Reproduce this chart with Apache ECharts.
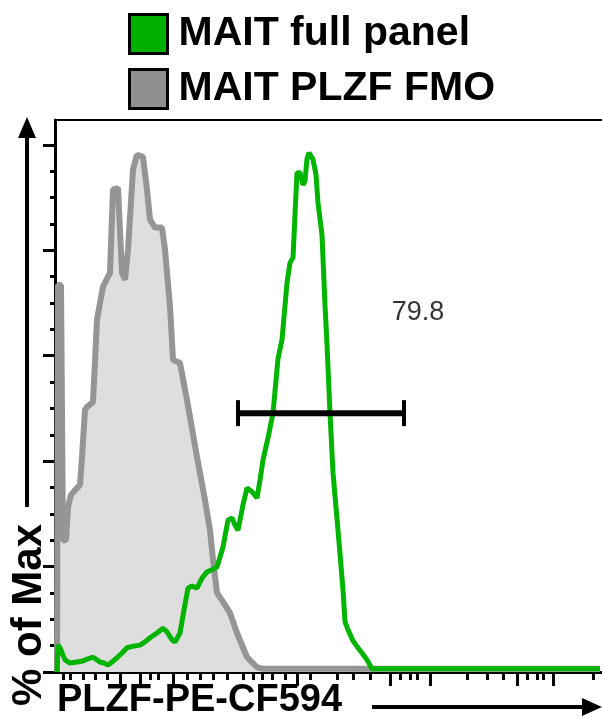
<!DOCTYPE html>
<html>
<head>
<meta charset="utf-8">
<script src="https://cdn.jsdelivr.net/npm/echarts@6/dist/echarts.min.js"></script>
<style>
html,body{margin:0;padding:0;background:#fff;}
#chart{width:602px;height:721px;}
</style>
</head>
<body>
<div id="chart"></div>
<script>
// ---- data (x in display channel units 0..547, y in % of Max) ----
const seriesNames = ['MAIT full panel', 'MAIT PLZF FMO'];
const fmoX = [2,3,6,8,11,13,16,20,25,27,30,32,38,42,48,55,58,63,67,70,73,78,82,88,92,95,100,107,110,115,118,125,132,142,150,155,158,162,168,175,182,192,202,208,315,545];
const fmoY = [0,73.4,73.4,25.0,25.0,31.3,33.6,34.5,35.5,40.8,49.7,50.3,51.2,66.8,73.1,75.7,91.5,91.8,75.7,74.4,80.1,95.3,98.1,97.7,91.5,85.8,84.3,84.3,80.1,69.3,59.2,58.6,51.6,40.8,32.6,26.9,21.3,15.0,13.3,11.2,7.4,2.8,0.9,0.6,0.6,0.6];
const fullX = [2,3,5,10,15,22,28,33,38,42,45,49,53,57,62,67,72,78,85,90,95,102,108,112,117,120,125,129,133,137,142,147,152,157,162,168,173,177,180,183,188,192,197,202,205,208,213,218,223,227,232,235,238,242,245,248,250,252,254,258,261,263,267,270,272,275,278,283,288,290,293,298,303,307,312,317,345,545];
const fullY = [0,5.1,4.6,2.3,1.7,1.9,2.1,2.5,2.8,2.3,1.9,1.7,1.3,1.9,2.7,3.6,4.6,4.9,5.1,5.7,6.5,7.4,8.3,7.6,6.1,5.7,7.4,11.8,15.9,16.3,15.9,17.8,19.0,19.4,19.9,23.7,28.8,29.2,27.9,26.9,31.7,34.9,34.2,33.0,36.4,40.2,44.4,49.1,59.4,63.0,73.8,77.6,78.6,94.7,94.7,92.4,93.2,97.3,98.5,97.2,94.3,89.0,82.9,69.6,62.2,49.1,37.8,26.9,15.6,9.5,8.0,5.9,4.6,3.6,2.3,0.6,0.6,0.6];
const gateRange = [183, 349];
const gateLevel = 49.1;
const gateLabel = '79.8';
const gateLabelPos = [363, 68.1];
const xRange = [0, 547];
const yRange = [0, 104.7];
const yMajorTicks = [0, 20, 40, 60, 80, 100];
const yMinorTicks = [5,10,15,25,30,35,45,50,55,65,70,75,85,90,95];
const xMajorTicks = [65, 85, 118, 242, 335, 375, 462, 498];
const xMinorTicks = [8, 15, 28, 40, 52, 95, 103, 132, 145, 158, 172, 188, 198, 207, 217, 230, 255, 282, 298, 315, 345, 355, 362, 412, 432, 448, 472, 482, 488, 538];
const xTitle = 'PLZF-PE-CF594';
const yTitle = '% of Max';

// ---- build ----
const FONT = '"Liberation Sans", Arial, Helvetica, sans-serif';
const GREEN = '#00b400';
const GRAY_LINE = '#959595';
const GRAY_FILL = '#dedede';
const zip = (a, b) => a.map((v, i) => [v, b[i]]);

const chart = echarts.init(document.getElementById('chart'), null, {renderer: 'canvas'});
chart.setOption({
  animation: false,
  backgroundColor: '#fff',
  grid: {left: 55, right: 0, top: 120, bottom: 49, containLabel: false},
  legend: {
    orient: 'vertical', left: 123, top: 7, itemWidth: 38, itemHeight: 39, itemGap: 11,
    selectedMode: false,
    textStyle: {fontFamily: FONT, fontWeight: 'bold', fontSize: 41, color: '#000', lineHeight: 44, padding: [0, 0, 0, 6]},
    data: [
      {name: seriesNames[0], icon: 'rect', itemStyle: {color: '#00b000', borderColor: '#000', borderWidth: 3}},
      {name: seriesNames[1], icon: 'rect', itemStyle: {color: '#909090', borderColor: '#000', borderWidth: 3}}
    ]
  },
  xAxis: [
    {type: 'value', min: xRange[0], max: xRange[1], position: 'bottom',
     axisLine: {show: true, lineStyle: {color: '#000', width: 3}},
     axisTick: {show: true, customValues: xMajorTicks, length: 14, lineStyle: {color: '#000', width: 3}},
     axisLabel: {show: false}, splitLine: {show: false}},
    {type: 'value', min: xRange[0], max: xRange[1], position: 'top',
     axisLine: {show: true, onZero: false, lineStyle: {color: '#000', width: 2}},
     axisTick: {show: false}, axisLabel: {show: false}, splitLine: {show: false}},
    {type: 'value', min: xRange[0], max: xRange[1], position: 'bottom',
     axisLine: {show: false},
     axisTick: {show: true, customValues: xMinorTicks, length: 8, lineStyle: {color: '#000', width: 3}},
     axisLabel: {show: false}, splitLine: {show: false}}
  ],
  yAxis: [
    {type: 'value', min: yRange[0], max: yRange[1], position: 'left',
     axisLine: {show: true, lineStyle: {color: '#000', width: 3}},
     axisTick: {show: true, customValues: yMajorTicks, length: 12, lineStyle: {color: '#000', width: 3}},
     axisLabel: {show: false}, splitLine: {show: false}},
    {type: 'value', min: yRange[0], max: yRange[1], position: 'left',
     axisLine: {show: false},
     axisTick: {show: true, customValues: yMinorTicks, length: 5, lineStyle: {color: '#000', width: 3}},
     axisLabel: {show: false}, splitLine: {show: false}}
  ],
  series: [
    {name: seriesNames[1], type: 'line', data: zip(fmoX, fmoY), showSymbol: false, symbol: 'none',
     lineStyle: {color: GRAY_LINE, width: 6}, itemStyle: {color: '#909090'},
     areaStyle: {color: GRAY_FILL, opacity: 1}, z: 2},
    {name: seriesNames[0], type: 'line', data: zip(fullX, fullY), showSymbol: false, symbol: 'none',
     lineStyle: {color: GREEN, width: 5}, itemStyle: {color: '#00b000'}, z: 3},
    {name: 'gate', type: 'line', data: gateRange.map(x => [x, gateLevel]),
     symbol: 'rect', symbolSize: [4, 26], showSymbol: true,
     lineStyle: {color: '#000', width: 6}, itemStyle: {color: '#000'}, z: 4},
    {name: 'gateLabel', type: 'scatter', data: [gateLabelPos], symbolSize: 0,
     label: {show: true, position: 'inside', formatter: gateLabel, fontFamily: FONT, fontSize: 27, color: '#000', textBorderWidth: 0}, z: 5}
  ],
  graphic: [
    {type: 'line', shape: {x1: 27, y1: 507, x2: 27, y2: 134}, style: {stroke: '#000', lineWidth: 4}},
    {type: 'polygon', shape: {points: [[27, 117], [18, 138], [36, 138]]}, style: {fill: '#000'}},
    {type: 'line', shape: {x1: 372, y1: 707, x2: 586, y2: 707}, style: {stroke: '#000', lineWidth: 4}},
    {type: 'polygon', shape: {points: [[602, 707], [582, 698], [582, 716]]}, style: {fill: '#000'}},
    {type: 'text', x: 29, y: 615, rotation: Math.PI / 2,
     style: {text: yTitle, font: 'bold 42px ' + FONT, fill: '#000', textAlign: 'center', textVerticalAlign: 'middle'}},
    {type: 'text', x: 57, y: 701,
     style: {text: xTitle, font: 'bold 38px ' + FONT, fill: '#000', textAlign: 'left', textVerticalAlign: 'middle'}}
  ]
});
</script>
</body>
</html>
